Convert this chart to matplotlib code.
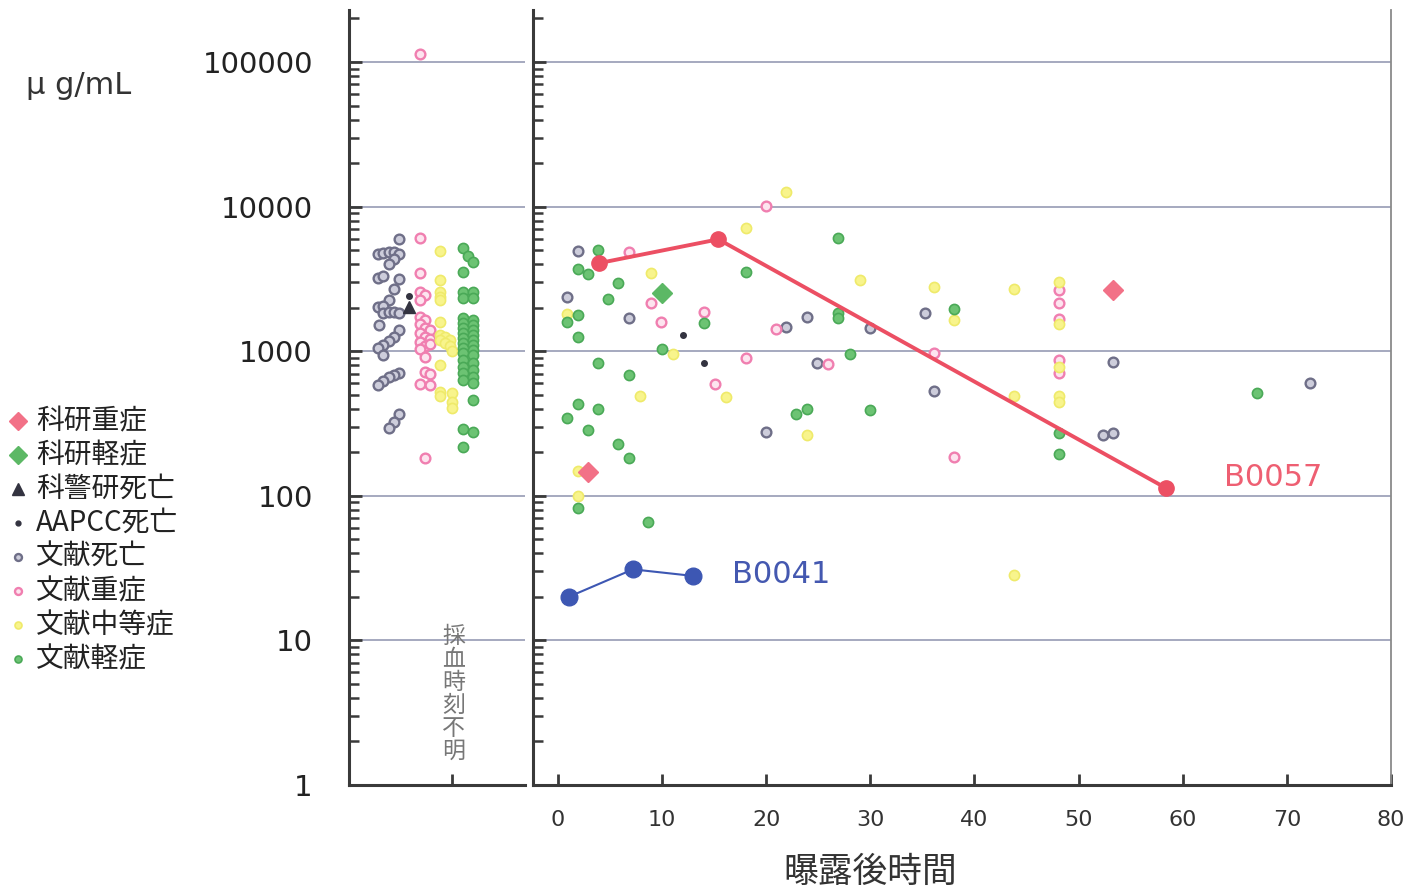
import matplotlib
matplotlib.use("Agg")
import matplotlib.pyplot as plt
from matplotlib.lines import Line2D
from matplotlib.ticker import LogLocator, NullFormatter, FixedLocator
import numpy as np

plt.rcParams['font.family'] = ['Noto Sans CJK JP', 'DejaVu Sans']

# ---------------- data ----------------
# right panel: hours after exposure, concentration (μg/mL)
gray_h = [1.9, 0.9, 6.8, 21.9, 23.9, 24.9, 20.0, 30.0, 35.2, 36.1, 53.3, 52.3, 53.3, 72.2]
gray_v = [4930, 2380, 1700, 1480, 1735, 830, 275, 1440, 1830, 533, 846, 263, 273, 605]

aapcc_h = [12.0, 14.05]
aapcc_v = [1295, 825]

pink_h = [6.8, 8.9, 9.9, 14.05, 20.9, 18.1, 25.9, 15.1, 20.0, 36.1, 38.0,
          48.1, 48.1, 48.1, 48.1, 48.1]
pink_v = [4880, 2145, 1600, 1860, 1425, 900, 815, 593, 10100, 967, 185,
          2650, 2140, 1660, 869, 710]

yellow_h = [8.9, 0.9, 11.0, 7.9, 16.1, 23.9, 1.9, 1.9, 18.1, 21.9, 29.0, 36.1,
            38.0, 43.8, 43.8, 43.8, 48.1, 48.1, 48.1, 48.1, 48.1]
yellow_v = [3460, 1800, 955, 490, 480, 263, 149, 100, 7080, 12600, 3100, 2790,
            1645, 2690, 490, 28.3, 3020, 1540, 774, 490, 448]

green_h = [3.8, 1.9, 2.85, 18.1, 5.8, 4.8, 1.9, 0.9, 14.05, 1.9, 3.8, 10.0, 6.8,
           1.9, 3.8, 0.9, 2.85, 22.9, 23.9, 5.8, 6.8, 1.9, 8.6, 26.9, 26.9, 26.9,
           38.0, 28.0, 30.0, 48.1, 48.1, 67.1]
green_v = [5000, 3680, 3400, 3550, 2980, 2290, 1780, 1600, 1560, 1260, 830, 1035, 684,
           432, 396, 347, 285, 366, 396, 227, 184, 82, 66, 6030, 1830, 1700,
           1960, 953, 392, 270, 194, 512]

kaken_severe_h = [2.85, 53.3]
kaken_severe_v = [147, 2650]
kaken_mild_h = [10.0]
kaken_mild_v = [2510]

b0057_h = [3.9, 15.4, 58.4]
b0057_v = [4060, 5940, 113]
b0041_h = [1.1, 7.2, 13.0]
b0041_v = [20.1, 31.0, 27.9]

# left panel (sampling time unknown): jitter position, concentration
lg_x = [2.86, 1.66, 1.95, 2.29, 2.56, 2.86, 2.56, 2.29, 1.66, 1.95, 2.86, 2.56, 2.29,
        1.66, 1.95, 1.95, 2.29, 2.56, 2.86, 1.72, 2.86, 2.56, 2.29, 1.95, 1.66, 1.95,
        2.86, 2.56, 2.29, 1.95, 1.66, 2.86, 2.56, 2.29]
lg_v = [5940, 4680, 4750, 4880, 4880, 4680, 4320, 4000, 3230, 3310, 3140, 2680, 2260,
        2010, 2050, 1850, 1880, 1880, 1850, 1520, 1400, 1260, 1180, 1100, 1050, 940,
        703, 684, 660, 625, 583, 368, 325, 293]

lk_x = [3.43]          # 科警研死亡
lk_v = [2010]
la_x = [3.43]          # AAPCC死亡
la_v = [2410]

lp_x = [4.03, 4.03, 4.03, 4.32, 4.03, 4.03, 4.32, 4.03, 4.32, 4.60, 4.03, 4.32, 4.60,
        4.03, 4.32, 4.60, 4.03, 4.32, 4.32, 4.60, 4.03, 4.60, 4.32, 4.03]
lp_v = [6040, 3490, 2580, 2450, 2260, 1735, 1645, 1540, 1440, 1400, 1330, 1260, 1210,
        1165, 1087, 1122, 1031, 917, 721, 695, 593, 583, 182, 113500]

ly_x = [5.17, 5.17, 5.17, 5.17, 5.17, 5.17, 5.17, 5.45, 5.74, 5.17, 5.45, 5.74, 5.84,
        5.17, 5.17, 5.17, 5.84, 5.84, 5.84]
ly_v = [4950, 3100, 2580, 2380, 2260, 1600, 1295, 1250, 1200, 1200, 1147, 1087, 1010,
        804, 525, 490, 517, 448, 403]

lgr_x = [6.46, 6.78, 7.06, 6.46] + [6.46] * 14 + [7.06] * 14 + [7.06, 6.46, 7.06, 6.46]
lgr_v = [5150, 4550, 4160, 3550,
         2580, 2320, 1690, 1560, 1440, 1330, 1228, 1134, 1048, 967, 869, 782, 703, 632,
         2580, 2320, 1645, 1518, 1402, 1295, 1196, 1105, 1021, 943, 825, 741, 667, 600,
         459, 288, 277, 219]

y_ticks = [1, 10, 100, 1000, 10000, 100000]
y_ticklabels = ['1', '10', '100', '1000', '10000', '100000']
x_ticks = [0, 10, 20, 30, 40, 50, 60, 70, 80]

legend_labels = ['科研重症', '科研軽症', '科警研死亡', 'AAPCC死亡',
                 '文献死亡', '文献重症', '文献中等症', '文献軽症']

# ---------------- styles ----------------
C_GRAY = dict(marker='o', ms=7, mfc='#cdcddb', mec='#6f6f88', mew=1.7, ls='none')
C_PINK = dict(marker='o', ms=7, mfc='#fde4ef', mec='#f07fb0', mew=1.7, ls='none')
C_YEL = dict(marker='o', ms=7.3, mfc='#f8f48c', mec='#efea6a', mew=1.2, ls='none')
C_GRN = dict(marker='o', ms=7.3, mfc='#6cc373', mec='#4aa957', mew=1.2, ls='none')
C_BLK = dict(marker='o', ms=4.0, mfc='#333340', mec='#333340', ls='none')
C_TRI = dict(marker='^', ms=8.5, mfc='#333340', mec='#333340', ls='none')
C_DPK = dict(marker='D', ms=10, mfc='#f27187', mec='#f27187', ls='none')
C_DGR = dict(marker='D', ms=10, mfc='#5cb865', mec='#5cb865', ls='none')

GRID_C = '#9ea3ba'
SPINE_C = '#3a3a3a'

W, H = 1427, 894
fig = plt.figure(figsize=(W / 100, H / 100), dpi=100)

y_top = 10 ** (5 + 52 / 144.6)
bot = 1 - 785 / H
top = 1 - 10 / H
axL = fig.add_axes([349 / W, bot, (525 - 349) / W, top - bot])
axR = fig.add_axes([533 / W, bot, (1391 - 533) / W, top - bot])

for ax in (axL, axR):
    ax.set_yscale('log')
    ax.set_ylim(1, y_top)
    ax.spines['top'].set_visible(False)
    for s in ('left', 'bottom'):
        ax.spines[s].set_color(SPINE_C)
        ax.spines[s].set_linewidth(2.2)
    ax.yaxis.set_major_locator(FixedLocator(y_ticks))
    ax.yaxis.set_minor_locator(LogLocator(base=10, subs=np.arange(2, 10), numticks=20))
    ax.yaxis.set_minor_formatter(NullFormatter())
    ax.tick_params(axis='y', which='major', direction='in', length=9, width=2, color=SPINE_C)
    ax.tick_params(axis='y', which='minor', direction='in', length=7, width=1.8, color=SPINE_C)
    ax.tick_params(axis='x', which='major', direction='in', length=8, width=2, color=SPINE_C)
    for yv in y_ticks[1:]:
        ax.axhline(yv, color=GRID_C, lw=1.3, zorder=0)

axL.spines['right'].set_visible(False)
axR.spines['right'].set_color('#8a8a8a')
axR.spines['right'].set_linewidth(1.3)

# left panel
axL.set_xlim(0, 10)
axL.set_xticks([5.85])
axL.set_xticklabels([''])
axL.set_yticks(y_ticks)
axL.set_yticklabels(y_ticklabels, fontsize=21, color='#222222',
                    family=['DejaVu Sans'])
axL.tick_params(axis='y', which='major', pad=26)

axL.plot(lg_x, lg_v, **C_GRAY, zorder=3)
axL.plot(lp_x, lp_v, **C_PINK, zorder=3)
axL.plot(ly_x, ly_v, **C_YEL, zorder=3)
axL.plot(lgr_x, lgr_v, **C_GRN, zorder=3)
axL.plot(lk_x, lk_v, **C_TRI, zorder=4)
axL.plot(la_x, la_v, **C_BLK, zorder=4)
axL.text(5.95, 1.42, '\n'.join('採血時刻不明'), ha='center', va='bottom',
         fontsize=16.5, color='#777777', linespacing=1.0)

# right panel
axR.set_xlim(-2.4, 80)
axR.set_xticks(x_ticks)
axR.set_xticklabels([str(v) for v in x_ticks], fontsize=16, color='#333333',
                    family=['DejaVu Sans'])
axR.tick_params(axis='x', pad=18)
axR.tick_params(axis='y', which='both', labelleft=False)

axR.plot(gray_h, gray_v, **C_GRAY, zorder=3)
axR.plot(pink_h, pink_v, **C_PINK, zorder=3)
axR.plot(yellow_h, yellow_v, **C_YEL, zorder=3)
axR.plot(green_h, green_v, **C_GRN, zorder=3)
axR.plot(aapcc_h, aapcc_v, **C_BLK, zorder=3)
axR.plot(kaken_severe_h, kaken_severe_v, **C_DPK, zorder=4)
axR.plot(kaken_mild_h, kaken_mild_v, **C_DGR, zorder=4)

axR.plot(b0057_h, b0057_v, color='#ec4f63', lw=2.8, marker='o', ms=11,
         mfc='#ec4f63', mec='#ec4f63', zorder=5)
axR.plot(b0041_h, b0041_v, color='#3d57b3', lw=1.5, marker='o', ms=12,
         mfc='#3d57b3', mec='#3d57b3', zorder=5)
axR.annotate('B0057', xy=(b0057_h[-1], b0057_v[-1]), xytext=(42, 8),
             textcoords='offset points', fontsize=22, color='#ee5f72',
             va='center', ha='left', family=['DejaVu Sans'])
axR.annotate('B0041', xy=(b0041_h[-1], b0041_v[-1]), xytext=(28, 1),
             textcoords='offset points', fontsize=22, color='#4458b0',
             va='center', ha='left', family=['DejaVu Sans'])

axR.set_xlabel('曝露後時間', fontsize=25, color='#333333', labelpad=20)
axR.xaxis.set_label_coords((870 - 533) / (1391 - 533), -0.09)

# unit label
fig.text(26 / W, 1 - 86 / H, 'μ g/mL', fontsize=22, color='#333333', va='center', ha='left',
         family=['DejaVu Sans'])

# legend (drawn manually)
leg_styles = [C_DPK, C_DGR, C_TRI, C_BLK, C_GRAY, C_PINK, C_YEL, C_GRN]
leg_ms = [9, 9, 8, 3.5, 5, 5, 5, 5]
for i, (lab, st, ms) in enumerate(zip(legend_labels, leg_styles, leg_ms)):
    yy = 1 - (421 + 34 * i) / H
    st2 = dict(st)
    st2['ms'] = ms
    fig.add_artist(Line2D([18 / W], [yy], transform=fig.transFigure, **st2))
    fig.text(36 / W, yy, lab, fontsize=20, color='#222222', va='center', ha='left')

fig.savefig('out.png', dpi=100)
